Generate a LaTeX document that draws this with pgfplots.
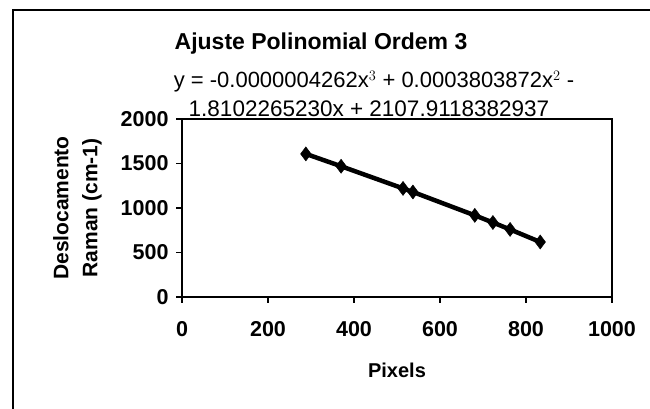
\documentclass[border=0pt]{standalone}
\usepackage{fontspec}
\setmainfont{Liberation Sans}
\usepackage{pgfplots}
\pgfplotsset{compat=1.18}
\begin{document}
\begin{tikzpicture}[x=1pt,y=1pt]
\useasboundingbox (0,0) rectangle (650,409);
\draw[line width=1.6pt] (13,0) -- (13,399) -- (650,399);
\node[font=\bfseries\fontsize{23}{23}\selectfont, anchor=base] at (321,359) {Ajuste Polinomial Ordem 3};
\node[font=\fontsize{22}{22}\selectfont, anchor=base] at (374,321) {y = -0.0000004262x$^{3}$ + 0.0003803872x$^{2}$ -};
\node[font=\fontsize{22.5}{22}\selectfont, anchor=base] at (369,292) {1.8102265230x + 2107.9118382937};
\begin{axis}[
  at={(182pt,112pt)}, anchor=south west,
  scale only axis, width=430pt, height=178pt,
  xmin=0, xmax=1000, ymin=0, ymax=2000,
  xtick={0,200,...,1000}, ytick={0,500,...,2000},
  tick align=outside, major tick length=6pt,
  axis line style={line width=1.6pt},
  every tick/.style={black, line width=1.4pt},
  xtick pos=bottom, ytick pos=left,
  /pgf/number format/assume math mode=true,
  /pgf/number format/1000 sep={},
  tick label style={font=\bfseries\fontsize{21.5}{21.5}\selectfont},
  xlabel={Pixels}, ylabel={Deslocamento\\[5pt]Raman (cm-1)},
  xlabel style={font=\bfseries\fontsize{20}{20}\selectfont, yshift=-19pt},
  ylabel style={font=\bfseries\fontsize{21}{24}\selectfont, align=center, yshift=12pt},
  xticklabel style={yshift=-15pt},
  yticklabel style={xshift=-4pt},
]
\addplot[black, line width=4.5pt, mark=diamond*, mark size=7pt, mark options={solid, line width=0.5pt}]
coordinates {
(288,1608) (370,1469) (514,1220) (537,1180) (681,917) (723,837) (763,759) (833,618)
};
\end{axis}
\end{tikzpicture}
\end{document}
